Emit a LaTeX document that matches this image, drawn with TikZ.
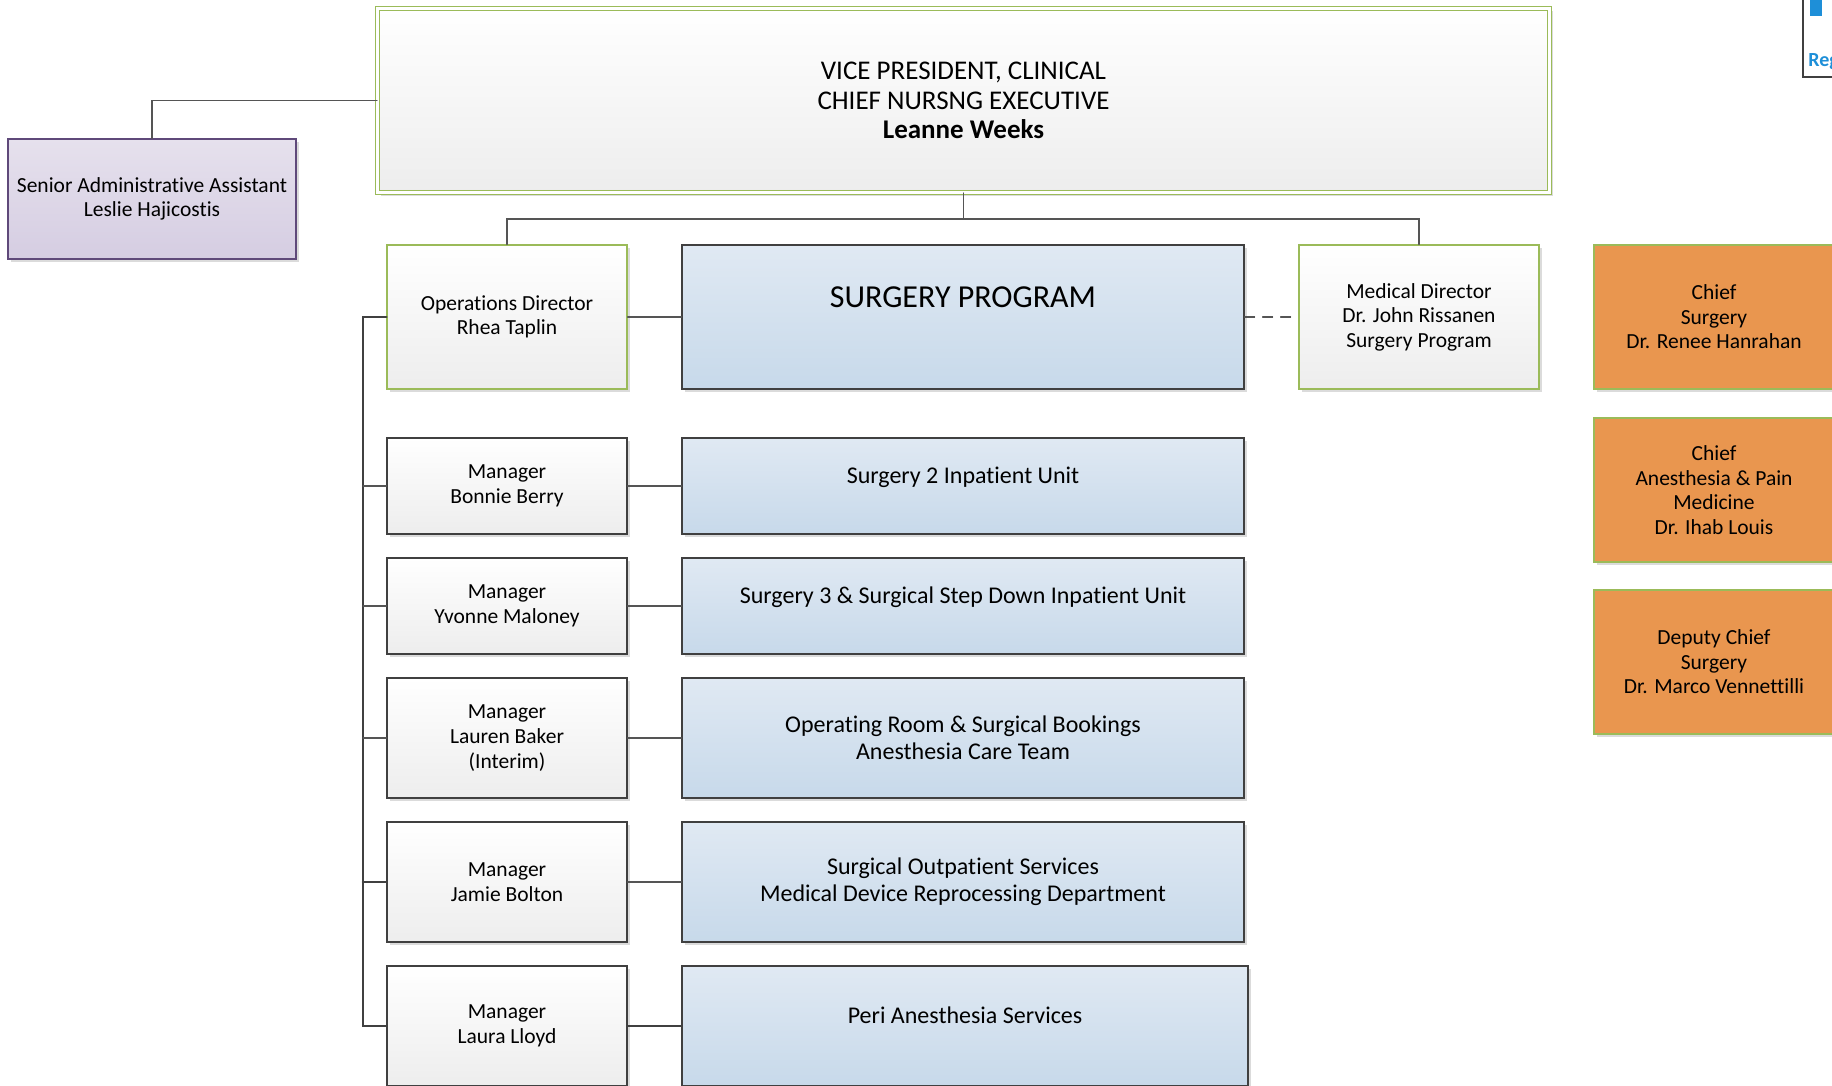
\documentclass[tikz,border=0pt]{standalone}
\usepackage{fontspec}
\setmainfont{Carlito}[Ligatures={NoCommon}]
\usetikzlibrary{calc}
\usetikzlibrary{positioning}
\usetikzlibrary{shadows}

\definecolor{leadgreen}{HTML}{9BBB59}
\definecolor{boxgrey}{HTML}{404040}
\definecolor{lineclr}{HTML}{555555}
\definecolor{adminfill}{HTML}{E6E1ED}
\definecolor{adminfillb}{HTML}{D5CDE2}
\definecolor{adminedge}{HTML}{5F497A}
\definecolor{unitfill}{HTML}{E0E9F3}
\definecolor{unitfillb}{HTML}{C7D9EA}
\definecolor{chieffill}{HTML}{E9964F}
\definecolor{regblue}{HTML}{1E8FD8}

\begin{document}
\begin{tikzpicture}[x=0.5pt,y=-0.5pt,line cap=round]
\tikzset{tikzbox/.style={rectangle,align=center,inner sep=2pt,
        font=\fontsize{10.75}{12.3}\selectfont,
        drop shadow={shadow xshift=1.5pt,shadow yshift=-1.5pt,fill=black!14,opacity=1}
    }
}
\tikzset{tikzvp/.style={tikzbox,draw=leadgreen,line width=0.5pt,double=white,double distance=1.5pt,
        top color=white,bottom color=black!7,minimum width=586pt,minimum height=92pt,
        font=\fontsize{13.5}{14.6}\selectfont}}
\tikzset{tikzadmin/.style={tikzbox,draw=adminedge,line width=0.6pt,top color=adminfill,bottom color=adminfillb,
        minimum width=144pt,minimum height=60pt}}
\tikzset{tikzlead/.style={tikzbox,draw=leadgreen,line width=0.6pt,top color=white,bottom color=black!7,
        minimum width=120pt,minimum height=72pt}}
\tikzset{tikzchief/.style={tikzbox,draw=leadgreen,line width=0.6pt,fill=chieffill,
        minimum width=120pt,minimum height=72pt}}
\tikzset{tikzmgr/.style={tikzbox,draw=boxgrey,line width=0.6pt,top color=white,bottom color=black!7,
        minimum width=120pt}}
\tikzset{tikzunit/.style={tikzbox,draw=boxgrey,line width=0.6pt,top color=unitfill,bottom color=unitfillb,
        minimum width=281pt,font=\fontsize{12}{13.4}\selectfont}}
\tikzset{tikzline/.style={draw=lineclr,line width=0.6pt}}
\tikzset{tikzrail/.style={draw=boxgrey,line width=1.3pt}}

\useasboundingbox (0,0) rectangle (1832,1086);
\clip (0,0) rectangle (1832,1086);

% top level
\node[tikzvp] (vp) at (963.5,100.5) {VICE PRESIDENT, CLINICAL\\CHIEF NURSNG EXECUTIVE\\\textbf{Leanne Weeks}};
\node[tikzadmin] (admin) at (152,199) {Senior Administrative Assistant\\Leslie Hajicostis};

% program leads
\node[tikzlead] (ops) at (507,317) {Operations Director\\Rhea Taplin};
\node[tikzunit,minimum height=72pt,font=\fontsize{16}{19.5}\selectfont] (prog) at (963,317) {SURGERY PROGRAM\\\mbox{}};
\node[tikzlead] (med) at (1419,317) {Medical Director\\Dr. John Rissanen\\Surgery Program};

% chiefs
\node[tikzchief] (chiefsurg) at (1714,317) {Chief\\Surgery\\Dr. Renee Hanrahan};
\node[tikzchief] (chiefanes) at (1714,490) {Chief\\Anesthesia \& Pain\\Medicine\\Dr. Ihab Louis};
\node[tikzchief] (deputy) at (1714,662) {Deputy Chief\\Surgery\\Dr. Marco Vennettilli};

% managers and units
\node[tikzmgr,minimum height=48pt] (berry) at (507,486) {Manager\\Bonnie Berry};
\node[tikzunit,minimum height=48pt] (unit2) at (963,486) {Surgery 2 Inpatient Unit\\[-3pt]\mbox{}};
\node[tikzmgr,minimum height=48pt] (maloney) at (507,606) {Manager\\Yvonne Maloney};
\node[tikzunit,minimum height=48pt] (unit3) at (963,606) {Surgery 3 \& Surgical Step Down Inpatient Unit\\[-3pt]\mbox{}};
\node[tikzmgr,minimum height=60pt] (baker) at (507,738) {Manager\\Lauren Baker\\(Interim)};
\node[tikzunit,minimum height=60pt] (orunit) at (963,738) {Operating Room \& Surgical Bookings\\Anesthesia Care Team};
\node[tikzmgr,minimum height=60pt] (bolton) at (507,882) {Manager\\Jamie Bolton};
\node[tikzunit,minimum height=60pt] (outpt) at (963,882) {Surgical Outpatient Services\\Medical Device Reprocessing Department};
\node[tikzmgr,minimum height=60pt] (lloyd) at (507,1026) {Manager\\Laura Lloyd};
\node[tikzunit,minimum height=60pt,minimum width=283pt] (peri) at (965,1026) {Peri Anesthesia Services\\[-3pt]\mbox{}};

% connectors
\coordinate (bus) at ($(vp.south)+(0,26)$);
\coordinate (rail) at (363,0);
\draw[tikzline] (vp.west) -| (admin.north);
\draw[tikzline] (vp.south) -- (bus);
\draw[tikzline] (ops.north) |- (bus) -| (med.north);
\draw[tikzline] (ops.east) -- (prog.west);
\draw[tikzline,dash pattern=on 5pt off 4pt] (prog.east) -- (med.west);

\draw[tikzrail] (ops.west) -- (ops.west -| rail) -- (lloyd.west -| rail) -- (lloyd.west);
\draw[tikzline] (berry.west) -- (berry.west -| rail);
\draw[tikzline] (maloney.west) -- (maloney.west -| rail);
\draw[tikzline] (baker.west) -- (baker.west -| rail);
\draw[tikzrail] (bolton.west) -- (bolton.west -| rail);

\draw[tikzline] (berry.east) -- (unit2.west);
\draw[tikzline] (maloney.east) -- (unit3.west);
\draw[tikzline] (baker.east) -- (orunit.west);
\draw[tikzline] (bolton.east) -- (outpt.west);
\draw[tikzrail] (lloyd.east) -- (peri.west);

% cut-off box top right
\draw[draw=boxgrey,line width=0.6pt] (1803,-5) -- (1803,77) -- (1840,77);
\fill[regblue] (1810,-5) rectangle (1822,16);
\node[anchor=west,inner sep=0pt,text=regblue,font=\fontsize{10}{12}\selectfont\bfseries] (reg) at (1808,62) {Reg};
\end{tikzpicture}
\end{document}
